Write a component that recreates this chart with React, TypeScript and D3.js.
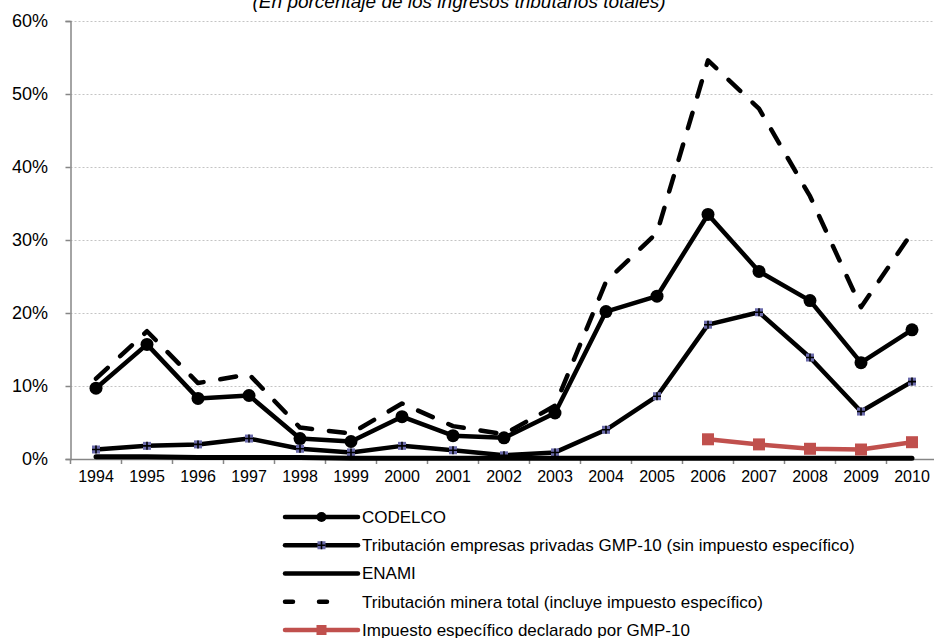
import { useRef, useEffect } from "react";
import * as d3 from "d3";

const years = [
  "1994", "1995", "1996", "1997", "1998", "1999", "2000", "2001", "2002",
  "2003", "2004", "2005", "2006", "2007", "2008", "2009", "2010",
];

const codelco = [9.7, 15.7, 8.3, 8.7, 2.8, 2.4, 5.8, 3.2, 2.9, 6.3, 20.2, 22.3, 33.5, 25.7, 21.7, 13.2, 17.7];
const gmp10 = [1.3, 1.8, 2.0, 2.8, 1.4, 0.9, 1.8, 1.2, 0.5, 0.9, 4.0, 8.6, 18.4, 20.1, 13.9, 6.5, 10.6];
const enami = [0.3, 0.3, 0.2, 0.2, 0.2, 0.1, 0.1, 0.1, 0.1, 0.1, 0.1, 0.1, 0.1, 0.1, 0.1, 0.1, 0.1];
const total = [11.0, 17.5, 10.4, 11.6, 4.3, 3.5, 7.6, 4.5, 3.4, 7.3, 24.3, 31.0, 54.6, 48.0, 36.0, 20.8, 31.0];
const impuestoYears = ["2006", "2007", "2008", "2009", "2010"];
const impuesto = [2.7, 2.0, 1.4, 1.3, 2.3];

const yTicks = [0, 10, 20, 30, 40, 50, 60];

const legendItems = [
  { label: "CODELCO", type: "circle" },
  { label: "Tributación empresas privadas GMP-10 (sin impuesto específico)", type: "cross" },
  { label: "ENAMI", type: "none" },
  { label: "Tributación minera total (incluye impuesto específico)", type: "dash" },
  { label: "Impuesto específico declarado por GMP-10", type: "red" },
];

const RED = "#c0504d";
const NAVY = "#6b6bab";

export default function App() {
  const svgRef = useRef<SVGSVGElement>(null);

  useEffect(() => {
    if (!svgRef.current) return;
    const svg = d3.select(svgRef.current);
    svg.selectAll("*").remove();

    const font = "'Liberation Sans', Arial, sans-serif";
    const left = 70.5;
    const right = 937.5;
    const top = 21;
    const bottom = 459;

    const x = d3.scaleBand().domain(years).range([left, right]);
    const cx = (yr: string) => (x(yr) || 0) + x.bandwidth() / 2;
    const y = d3.scaleLinear().domain([0, 60]).range([bottom, top]);

    // Title (cut at the top, as in the source)
    svg.append("text")
      .attr("x", 459)
      .attr("y", 8)
      .attr("text-anchor", "middle")
      .attr("font-family", font)
      .attr("font-size", "19px")
      .attr("font-style", "italic")
      .attr("fill", "#000")
      .text("(En porcentaje de los ingresos tributarios totales)");

    // Grid lines
    svg.append("g")
      .selectAll("line")
      .data(yTicks.filter((t) => t > 0))
      .enter()
      .append("line")
      .attr("x1", left)
      .attr("x2", 934)
      .attr("y1", (d) => Math.round(y(d)) + 0.5)
      .attr("y2", (d) => Math.round(y(d)) + 0.5)
      .attr("stroke", "#c4c4c4")
      .attr("stroke-width", 1)
      .attr("stroke-dasharray", "2,2");

    // Y axis
    svg.append("g")
      .attr("transform", `translate(${left}, 0)`)
      .call(d3.axisLeft(y).tickValues(yTicks).tickSize(5).tickPadding(17.5).tickFormat((d) => `${d}%`))
      .call((g) => g.select(".domain").attr("stroke", "#868686").attr("stroke-width", 1.5))
      .call((g) => g.selectAll(".tick line").attr("stroke", "#868686").attr("stroke-width", 1.5))
      .call((g) =>
        g.selectAll(".tick text").attr("fill", "#000").attr("font-size", "18px").attr("font-family", font)
      );

    // X axis
    const xa = svg.append("g")
      .attr("transform", `translate(0, ${bottom})`)
      .call(d3.axisBottom(x).tickSize(0).tickPadding(12))
      .call((g) => g.select(".domain").attr("stroke", "#868686").attr("stroke-width", 1.5))
      .call((g) =>
        g.selectAll(".tick text").attr("fill", "#000").attr("font-size", "16px").attr("font-family", font)
      );
    xa.selectAll(".boundary")
      .data(years)
      .enter()
      .append("line")
      .attr("x1", (d) => x(d) || 0)
      .attr("x2", (d) => x(d) || 0)
      .attr("y1", 0)
      .attr("y2", 5)
      .attr("stroke", "#868686")
      .attr("stroke-width", 1.5);

    const line = d3.line<[string, number]>()
      .x((d) => cx(d[0]))
      .y((d) => y(d[1]));

    const series = (vals: number[], yrs: string[] = years) =>
      yrs.map((yr, i) => [yr, vals[i]] as [string, number]);

    const plot = svg.append("g");

    // CODELCO
    plot.append("path")
      .attr("d", line(series(codelco)))
      .attr("fill", "none")
      .attr("stroke", "#000")
      .attr("stroke-width", 4.5)
      .attr("stroke-linejoin", "round");
    plot.selectAll(".cod")
      .data(series(codelco))
      .enter()
      .append("circle")
      .attr("cx", (d) => cx(d[0]))
      .attr("cy", (d) => y(d[1]))
      .attr("r", 6.5)
      .attr("fill", "#000");

    // GMP-10
    plot.append("path")
      .attr("d", line(series(gmp10)))
      .attr("fill", "none")
      .attr("stroke", "#000")
      .attr("stroke-width", 4.5)
      .attr("stroke-linejoin", "round");
    const gm = plot.selectAll(".gmp")
      .data(series(gmp10))
      .enter()
      .append("g")
      .attr("transform", (d) => `translate(${cx(d[0])}, ${y(d[1])})`);
    gm.append("rect").attr("x", -4).attr("y", -4).attr("width", 8).attr("height", 8).attr("fill", NAVY);
    gm.append("path").attr("d", "M-4,0H4M0,-4V4").attr("stroke", "#000").attr("stroke-width", 1.6);

    // ENAMI
    plot.append("path")
      .attr("d", line(series(enami)))
      .attr("fill", "none")
      .attr("stroke", "#000")
      .attr("stroke-width", 5)
      .attr("stroke-linecap", "round")
      .attr("stroke-linejoin", "round");

    // Total
    plot.append("path")
      .attr("d", line(series(total)))
      .attr("fill", "none")
      .attr("stroke", "#000")
      .attr("stroke-width", 4.5)
      .attr("stroke-dasharray", "16 17")
      .attr("stroke-linecap", "round")
      .attr("stroke-linejoin", "round");

    // Impuesto especifico
    plot.append("path")
      .attr("d", line(series(impuesto, impuestoYears)))
      .attr("fill", "none")
      .attr("stroke", RED)
      .attr("stroke-width", 4.5)
      .attr("stroke-linejoin", "round");
    plot.selectAll(".imp")
      .data(series(impuesto, impuestoYears))
      .enter()
      .append("rect")
      .attr("x", (d) => cx(d[0]) - 6)
      .attr("y", (d) => y(d[1]) - 6)
      .attr("width", 12)
      .attr("height", 12)
      .attr("fill", RED);

    // Legend
    const lx1 = 285;
    const lx2 = 358;
    const lmid = (lx1 + lx2) / 2;
    const lg = svg.append("g");
    const rowY = d3.scalePoint<number>().domain(legendItems.map((_, i) => i)).range([517, 630]);
    legendItems.forEach((item, i) => {
      const ry = rowY(i) || 0;
      const row = lg.append("g");
      const isRed = item.type === "red";
      const ln = row.append("line")
        .attr("x1", lx1)
        .attr("x2", lx2)
        .attr("y1", ry)
        .attr("y2", ry)
        .attr("stroke", isRed ? RED : "#000")
        .attr("stroke-width", 4.5)
        .attr("stroke-linecap", "round");
      if (item.type === "dash") {
        ln.attr("x2", 336).attr("stroke-dasharray", "8 26");
      }
      if (item.type === "circle") {
        row.append("circle").attr("cx", lmid).attr("cy", ry).attr("r", 5).attr("fill", "#000");
      }
      if (item.type === "cross") {
        row.append("rect").attr("x", lmid - 4).attr("y", ry - 4).attr("width", 8).attr("height", 8).attr("fill", NAVY);
        row.append("path")
          .attr("d", `M${lmid - 4},${ry}H${lmid + 4}M${lmid},${ry - 4}V${ry + 4}`)
          .attr("stroke", "#000")
          .attr("stroke-width", 1.6);
      }
      if (isRed) {
        row.append("rect").attr("x", lmid - 5).attr("y", ry - 5).attr("width", 10).attr("height", 10).attr("fill", RED);
      }
      row.append("text")
        .attr("x", 362)
        .attr("y", ry)
        .attr("dy", "0.35em")
        .attr("font-family", font)
        .attr("font-size", "17px")
        .attr("fill", "#000")
        .text(item.label);
    });
  }, []);

  return (
    <svg
      ref={svgRef}
      width={934}
      height={638}
      style={{ position: "absolute", left: 0, top: 0, background: "#fff" }}
    />
  );
}
